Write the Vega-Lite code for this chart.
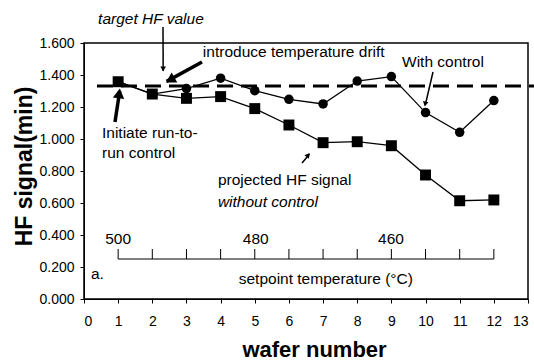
{
  "$schema": "https://vega.github.io/schema/vega-lite/v6.json",
  "width": 444,
  "height": 256,
  "autosize": {"type": "none"},
  "padding": {"left": 84, "top": 43, "right": 6, "bottom": 65},
  "background": "white",
  "config": {
    "font": "Liberation Sans",
    "view": {"stroke": "black", "strokeWidth": 1.5},
    "axis": {"grid": false, "labelOverlap": false, "domainColor": "black", "tickColor": "black", "labelColor": "black", "titleColor": "black", "labelFont": "Liberation Sans", "titleFont": "Liberation Sans"}
  },
  "datasets": {
    "signal": [
      {"wafer": 1, "hf": 1.358, "series": "With control"},
      {"wafer": 2, "hf": 1.281, "series": "With control"},
      {"wafer": 3, "hf": 1.315, "series": "With control"},
      {"wafer": 4, "hf": 1.38, "series": "With control"},
      {"wafer": 5, "hf": 1.302, "series": "With control"},
      {"wafer": 6, "hf": 1.248, "series": "With control"},
      {"wafer": 7, "hf": 1.219, "series": "With control"},
      {"wafer": 8, "hf": 1.362, "series": "With control"},
      {"wafer": 9, "hf": 1.39, "series": "With control"},
      {"wafer": 10, "hf": 1.165, "series": "With control"},
      {"wafer": 11, "hf": 1.042, "series": "With control"},
      {"wafer": 12, "hf": 1.24, "series": "With control"},
      {"wafer": 1, "hf": 1.358, "series": "Without control"},
      {"wafer": 2, "hf": 1.281, "series": "Without control"},
      {"wafer": 3, "hf": 1.254, "series": "Without control"},
      {"wafer": 4, "hf": 1.265, "series": "Without control"},
      {"wafer": 5, "hf": 1.19, "series": "Without control"},
      {"wafer": 6, "hf": 1.0875, "series": "Without control"},
      {"wafer": 7, "hf": 0.977, "series": "Without control"},
      {"wafer": 8, "hf": 0.983, "series": "Without control"},
      {"wafer": 9, "hf": 0.958, "series": "Without control"},
      {"wafer": 10, "hf": 0.775, "series": "Without control"},
      {"wafer": 11, "hf": 0.614, "series": "Without control"},
      {"wafer": 12, "hf": 0.619, "series": "Without control"}
    ],
    "target": [{"wafer": 0.38, "wafer2": 13.18, "hf": 1.331}],
    "setpointLine": [{"wafer": 1, "wafer2": 12, "hf": 0.25}],
    "setpointTicks": [
      {"wafer": 1, "hf": 0.25, "hf2": 0.3125},
      {"wafer": 2, "hf": 0.25, "hf2": 0.3125},
      {"wafer": 3, "hf": 0.25, "hf2": 0.3125},
      {"wafer": 4, "hf": 0.25, "hf2": 0.3125},
      {"wafer": 5, "hf": 0.25, "hf2": 0.3125},
      {"wafer": 6, "hf": 0.25, "hf2": 0.3125},
      {"wafer": 7, "hf": 0.25, "hf2": 0.3125},
      {"wafer": 8, "hf": 0.25, "hf2": 0.3125},
      {"wafer": 9, "hf": 0.25, "hf2": 0.3125},
      {"wafer": 10, "hf": 0.25, "hf2": 0.3125},
      {"wafer": 11, "hf": 0.25, "hf2": 0.3125},
      {"wafer": 12, "hf": 0.25, "hf2": 0.3125}
    ],
    "setpointLabels": [
      {"wafer": 1, "hf": 0.375, "label": "500"},
      {"wafer": 5.03, "hf": 0.375, "label": "480"},
      {"wafer": 8.99, "hf": 0.375, "label": "460"},
      {"wafer": 7.08, "hf": 0.125, "label": "setpoint temperature (°C)"}
    ],
    "notesLeft": [
      {"wafer": 3.48, "hf": 1.544, "label": "introduce temperature drift"},
      {"wafer": 0.527, "hf": 1.0375, "label": "Initiate run-to-"},
      {"wafer": 0.527, "hf": 0.9125, "label": "run control"},
      {"wafer": 3.92, "hf": 0.744, "label": "projected HF signal"},
      {"wafer": 0.205, "hf": 0.156, "label": "a."}
    ],
    "notesItalic": [
      {"wafer": 3.92, "hf": 0.606, "label": "without control"}
    ],
    "notesCenter": [
      {"wafer": 10.51, "hf": 1.481, "label": "With control"}
    ],
    "notesTitle": [
      {"wafer": 1.96, "hf": 1.75, "label": "target HF value"}
    ],
    "thinArrows": [
      {"wafer": 2.313, "hf": 1.70, "wafer2": 2.318, "hf2": 1.425},
      {"wafer": 10.218, "hf": 1.419, "wafer2": 9.99, "hf2": 1.21},
      {"wafer": 6.383, "hf": 0.85, "wafer2": 6.6, "hf2": 0.905}
    ],
    "thinHeads": [
      {"wafer": 2.318, "hf": 1.4375, "heading": 180},
      {"wafer": 9.99, "hf": 1.219, "heading": 193},
      {"wafer": 6.564, "hf": 0.9, "heading": 38}
    ],
    "thickArrows": [
      {"wafer": 3.455, "hf": 1.481, "wafer2": 2.42, "hf2": 1.36},
      {"wafer": 0.908, "hf": 1.106, "wafer2": 1.045, "hf2": 1.30}
    ],
    "thickHeads": [
      {"wafer": 2.524, "hf": 1.369, "heading": 240},
      {"wafer": 1.03, "hf": 1.285, "heading": 8}
    ]
  },
  "encoding": {
    "x": {"field": "wafer", "type": "quantitative", "scale": {"domain": [0, 13], "nice": false}, "axis": {"values": [0,1,2,3,4,5,6,7,8,9,10,11,12,13], "labelOverlap": false, "format": "d", "labelFontSize": 14, "labelPadding": 11, "tickSize": 4, "title": "wafer number", "titleFontSize": 22, "titleFontWeight": "bold", "titleY": 50, "titleX": 230, "titleBaseline": "middle"}},
    "y": {"field": "hf", "type": "quantitative", "scale": {"domain": [0, 1.6], "nice": false}, "axis": {"values": [0, 0.2, 0.4, 0.6, 0.8, 1.0, 1.2, 1.4, 1.6], "labelOverlap": false, "format": ".3f", "labelFontSize": 14, "labelPadding": 6, "tickSize": 4, "title": "HF signal(min)", "titleFontSize": 23, "titleFontWeight": "bold", "titleX": -60, "titleY": 123, "titleBaseline": "middle"}}
  },
  "layer": [
    {
      "data": {"name": "target"},
      "mark": {"type": "rule", "strokeDash": [16, 8], "strokeWidth": 3, "color": "black", "clip": false},
      "encoding": {"x2": {"field": "wafer2"}}
    },
    {
      "data": {"name": "setpointLine"},
      "mark": {"type": "rule", "strokeWidth": 1.2, "color": "black"},
      "encoding": {"x2": {"field": "wafer2"}}
    },
    {
      "data": {"name": "setpointTicks"},
      "mark": {"type": "rule", "strokeWidth": 1, "color": "black"},
      "encoding": {"y2": {"field": "hf2"}}
    },
    {
      "data": {"name": "setpointLabels"},
      "mark": {"type": "text", "fontSize": 15.5, "align": "center", "baseline": "middle", "color": "black"},
      "encoding": {"text": {"field": "label"}}
    },
    {
      "data": {"name": "signal"},
      "mark": {"type": "line", "strokeWidth": 1.3, "color": "black"},
      "encoding": {"detail": {"field": "series"}}
    },
    {
      "data": {"name": "signal"},
      "mark": {"type": "point", "filled": true, "opacity": 1, "color": "black"},
      "encoding": {
        "shape": {"field": "series", "type": "nominal", "scale": {"domain": ["With control", "Without control"], "range": ["circle", "square"]}, "legend": null},
        "size": {"field": "series", "type": "nominal", "scale": {"domain": ["With control", "Without control"], "range": [90, 120]}, "legend": null},
        "order": {"field": "series", "sort": "ascending"}
      }
    },
    {
      "data": {"name": "notesLeft"},
      "mark": {"type": "text", "fontSize": 15.5, "align": "left", "baseline": "middle", "color": "black"},
      "encoding": {"text": {"field": "label"}}
    },
    {
      "data": {"name": "notesItalic"},
      "mark": {"type": "text", "fontSize": 15.5, "fontStyle": "italic", "align": "left", "baseline": "middle", "color": "black"},
      "encoding": {"text": {"field": "label"}}
    },
    {
      "data": {"name": "notesCenter"},
      "mark": {"type": "text", "fontSize": 15.5, "align": "center", "baseline": "middle", "color": "black"},
      "encoding": {"text": {"field": "label"}}
    },
    {
      "data": {"name": "notesTitle"},
      "mark": {"type": "text", "fontSize": 15.5, "fontStyle": "italic", "align": "center", "baseline": "middle", "color": "black", "clip": false},
      "encoding": {"text": {"field": "label"}}
    },
    {
      "data": {"name": "thinArrows"},
      "mark": {"type": "rule", "strokeWidth": 1.5, "color": "black", "clip": false},
      "encoding": {"x2": {"field": "wafer2"}, "y2": {"field": "hf2"}}
    },
    {
      "data": {"name": "thinHeads"},
      "mark": {"type": "point", "shape": "triangle-up", "filled": true, "opacity": 1, "size": 32, "color": "black"},
      "encoding": {"angle": {"field": "heading", "type": "quantitative", "scale": null}}
    },
    {
      "data": {"name": "thickArrows"},
      "mark": {"type": "rule", "strokeWidth": 3.5, "color": "black"},
      "encoding": {"x2": {"field": "wafer2"}, "y2": {"field": "hf2"}}
    },
    {
      "data": {"name": "thickHeads"},
      "mark": {"type": "point", "shape": "triangle-up", "filled": true, "opacity": 1, "size": 130, "color": "black"},
      "encoding": {"angle": {"field": "heading", "type": "quantitative", "scale": null}}
    }
  ]
}
